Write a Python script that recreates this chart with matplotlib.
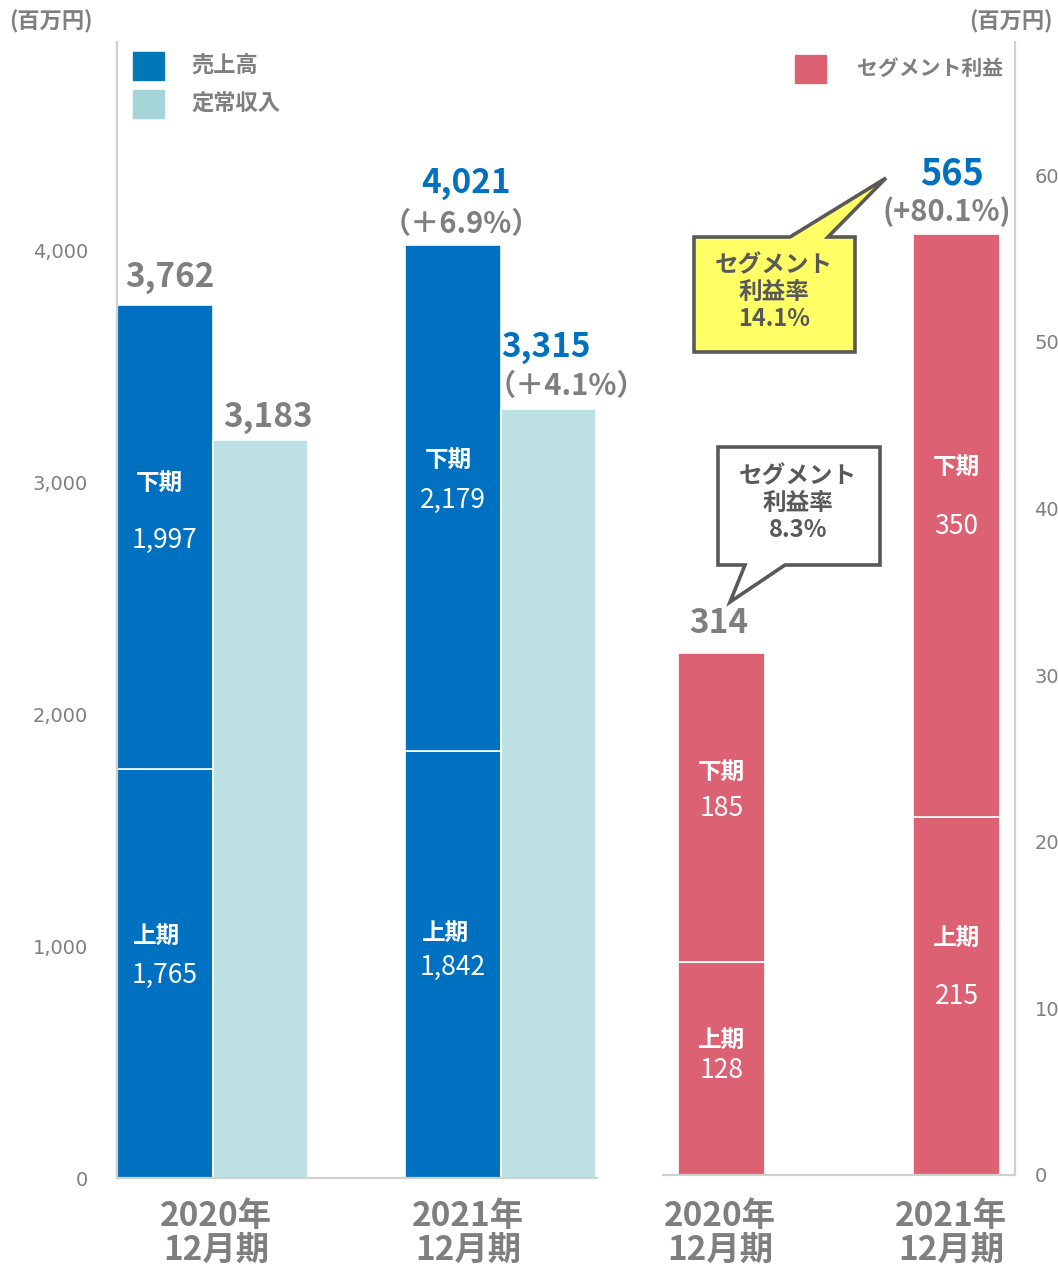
import matplotlib.pyplot as plt
from matplotlib.patches import Polygon, Rectangle
import numpy as np

plt.rcParams['font.family'] = ['Noto Sans CJK JP', 'DejaVu Sans']

# data
years = ["2020年\n12月期", "2021年\n12月期"]
sales_h1 = [1765, 1842]
sales_h2 = [1997, 2179]
sales_total = ["3,762", "4,021"]
recurring = [3183, 3315]
recurring_label = ["3,183", "3,315"]
sales_growth = [None, "（＋6.9%）"]
recurring_growth = [None, "（＋4.1%）"]
seg_h1 = [128, 215]
seg_h2 = [185, 350]
seg_total = ["314", "565"]
seg_growth = [None, "(+80.1%)"]
margin_text = ["セグメント\n利益率\n8.3%", "セグメント\n利益率\n14.1%"]

BLUE = '#0070c0'
LIGHT = '#bde0e3'
PINK = '#dc6172'
GRAY = '#7f7f7f'
DARK = '#595959'
SPINE = '#d0d0d0'

W, H = 1058, 1266
fig = plt.figure(figsize=(W / 100, H / 100), dpi=100)


def fx(px):
    return px / W


def fy(py):
    return 1 - py / H


# ---------------- left panel: sales / recurring revenue ----------------
ax = fig.add_axes([fx(117), fy(1178), fx(597) - fx(117), fy(42) - fy(1178)])
x = np.arange(len(years))
w = 0.33
ax.bar(x - w / 2, sales_h1, w, color=BLUE, edgecolor='white', linewidth=1.2)
ax.bar(x - w / 2, sales_h2, w, bottom=sales_h1, color=BLUE, edgecolor='white', linewidth=1.2)
ax.bar(x + w / 2, recurring, w, color=LIGHT, edgecolor='white', linewidth=1.2)
ax.set_xlim(-0.3316, 1.335)
ax.set_ylim(0, 4897)
ax.set_yticks([0, 1000, 2000, 3000, 4000])
ax.set_yticklabels(['0', '1,000', '2,000', '3,000', '4,000'], family='DejaVu Sans',
                   fontsize=14, color=GRAY)
ax.tick_params(axis='y', length=0, pad=21)
ax.set_xticks([0.012, 0.887])
ax.set_xticklabels(years, fontsize=24, fontweight='bold', color=GRAY, linespacing=1.02)
ax.tick_params(axis='x', length=0, pad=16)
for s in ['top', 'right']:
    ax.spines[s].set_visible(False)
for s in ['left', 'bottom']:
    ax.spines[s].set_color(SPINE)
    ax.spines[s].set_linewidth(1.6)

# totals above bars
tot_off = [(5, 28), (13, 62)]
rec_off = [(8, 22), (-2, 61)]
for i in range(len(years)):
    top = sales_h1[i] + sales_h2[i]
    ax.annotate(sales_total[i], (x[i] - w / 2, top), xytext=tot_off[i], textcoords='offset pixels',
                ha='center', va='center', fontsize=24, fontweight='bold',
                color=GRAY if i == 0 else BLUE)
    ax.annotate(recurring_label[i], (x[i] + w / 2, recurring[i]), xytext=rec_off[i],
                textcoords='offset pixels', ha='center', va='center', fontsize=24,
                fontweight='bold', color=GRAY if i == 0 else BLUE)
    if sales_growth[i]:
        ax.annotate(sales_growth[i], (x[i] - w / 2, top), xytext=(8, 21), textcoords='offset pixels',
                    ha='center', va='center', fontsize=21, fontweight='bold', color=GRAY)
    if recurring_growth[i]:
        ax.annotate(recurring_growth[i], (x[i] + w / 2, recurring[i]), xytext=(18, 23),
                    textcoords='offset pixels', ha='center', va='center', fontsize=21,
                    fontweight='bold', color=GRAY)

# labels inside the stacked bars (y positions in data units)
in_pos = {
    'h2': [(2996, 2750), (3095, 2922)],
    'h1': [(1043, 875), (1056, 909)],
}
in_dx = [-6, -5]
for i in range(len(years)):
    xc = x[i] - w / 2
    ax.annotate('下期', (xc, in_pos['h2'][i][0]), xytext=(in_dx[i], 0), textcoords='offset pixels',
                ha='center', va='center', fontsize=17, fontweight='bold', color='white')
    ax.text(xc, in_pos['h2'][i][1], f"{sales_h2[i]:,}", ha='center', va='center',
            fontsize=19, color='white')
    ax.annotate('上期', (xc, in_pos['h1'][i][0]), xytext=(in_dx[i] - 2, 0), textcoords='offset pixels',
                ha='center', va='center', fontsize=17, fontweight='bold', color='white')
    ax.text(xc, in_pos['h1'][i][1], f"{sales_h1[i]:,}", ha='center', va='center',
            fontsize=19, color='white')

# ---------------- right panel: segment profit ----------------
ax2 = fig.add_axes([fx(663), fy(1175), fx(1015) - fx(663), fy(42) - fy(1175)])
w2 = 0.37
ax2.bar(x, seg_h1, w2, color=PINK, edgecolor='white', linewidth=1.2)
ax2.bar(x, seg_h2, w2, bottom=seg_h1, color=PINK, edgecolor='white', linewidth=1.2)
ax2.set_xlim(-0.249, 1.249)
ax2.set_ylim(0, 680)
ax2.yaxis.tick_right()
ax2.set_yticks(range(0, 700, 100))
ax2.set_yticklabels([str(v) for v in range(0, 700, 100)], family='DejaVu Sans',
                    fontsize=14, color=GRAY)
ax2.tick_params(axis='y', length=0, pad=14)
ax2.set_xticks([-0.006, 0.977])
ax2.set_xticklabels(years, fontsize=24, fontweight='bold', color=GRAY, linespacing=1.02)
ax2.tick_params(axis='x', length=0, pad=18)
for s in ['top', 'left']:
    ax2.spines[s].set_visible(False)
for s in ['right', 'bottom']:
    ax2.spines[s].set_color(SPINE)
    ax2.spines[s].set_linewidth(1.6)

seg_off = [(-3, 30), (-5, 60)]
for i in range(len(years)):
    top = seg_h1[i] + seg_h2[i]
    ax2.annotate(seg_total[i], (x[i], top), xytext=seg_off[i], textcoords='offset pixels',
                 ha='center', va='center', fontsize=24 if i == 0 else 26, fontweight='bold',
                 color=GRAY if i == 0 else BLUE)
    if seg_growth[i]:
        ax2.annotate(seg_growth[i], (x[i], top), xytext=(-10, 22), textcoords='offset pixels',
                     ha='center', va='center', fontsize=21, fontweight='bold', color=GRAY)

seg_pos = {
    'h2': [(242, 220), (425, 389)],
    'h1': [(81, 63), (142, 107)],
}
for i in range(len(years)):
    ax2.text(x[i], seg_pos['h2'][i][0], '下期', ha='center', va='center', fontsize=17,
             fontweight='bold', color='white')
    ax2.text(x[i], seg_pos['h2'][i][1], str(seg_h2[i]), ha='center', va='center',
             fontsize=19, color='white')
    ax2.text(x[i], seg_pos['h1'][i][0], '上期', ha='center', va='center', fontsize=17,
             fontweight='bold', color='white')
    ax2.text(x[i], seg_pos['h1'][i][1], str(seg_h1[i]), ha='center', va='center',
             fontsize=19, color='white')


# ---------------- callouts ----------------
def callout(box, base, tip, face, text, text_xy):
    l, t, r, b = box
    if tip[1] < t:  # pointer goes up from the top edge
        pts = [(l, t), (base[0], t), tip, (base[1], t), (r, t), (r, b), (l, b)]
    else:  # pointer goes down from the bottom edge
        pts = [(l, t), (r, t), (r, b), (base[1], b), tip, (base[0], b), (l, b)]
    poly = Polygon([(fx(px), fy(py)) for px, py in pts], closed=True, transform=fig.transFigure,
                   facecolor=face, edgecolor=DARK, linewidth=2.6, joinstyle='miter')
    fig.add_artist(poly)
    fig.text(fx(text_xy[0]), fy(text_xy[1]), text, ha='center', va='center', fontsize=17,
             fontweight='bold', color=DARK, linespacing=1.15)


callout((694, 237, 855, 352), (790, 828), (886, 178), '#ffff66', margin_text[1], (774, 292))
callout((718, 447, 880, 565), (745, 785), (730, 602), 'white', margin_text[0], (798, 503))

# ---------------- legends / units ----------------
fig.add_artist(Rectangle((fx(133), fy(80)), fx(31), fy(52) - fy(80), transform=fig.transFigure,
                         color='#0077b6'))
fig.add_artist(Rectangle((fx(133), fy(118)), fx(31), fy(90) - fy(118), transform=fig.transFigure,
                         color='#a5d5d9'))
fig.add_artist(Rectangle((fx(795), fy(83)), fx(31), fy(55) - fy(83), transform=fig.transFigure,
                         color=PINK))
fig.text(fx(191), fy(66), '売上高', ha='left', va='center', fontsize=16, fontweight='bold', color=GRAY)
fig.text(fx(191), fy(104), '定常収入', ha='left', va='center', fontsize=16, fontweight='bold', color=GRAY)
fig.text(fx(857), fy(68), 'セグメント利益', ha='left', va='center', fontsize=15, fontweight='bold',
         color=GRAY)
fig.text(fx(9), fy(22), '(百万円)', ha='left', va='center', fontsize=16, fontweight='bold', color=GRAY)
fig.text(fx(969), fy(22), '(百万円)', ha='left', va='center', fontsize=16, fontweight='bold', color=GRAY)

fig.savefig('out.png', dpi=100)
